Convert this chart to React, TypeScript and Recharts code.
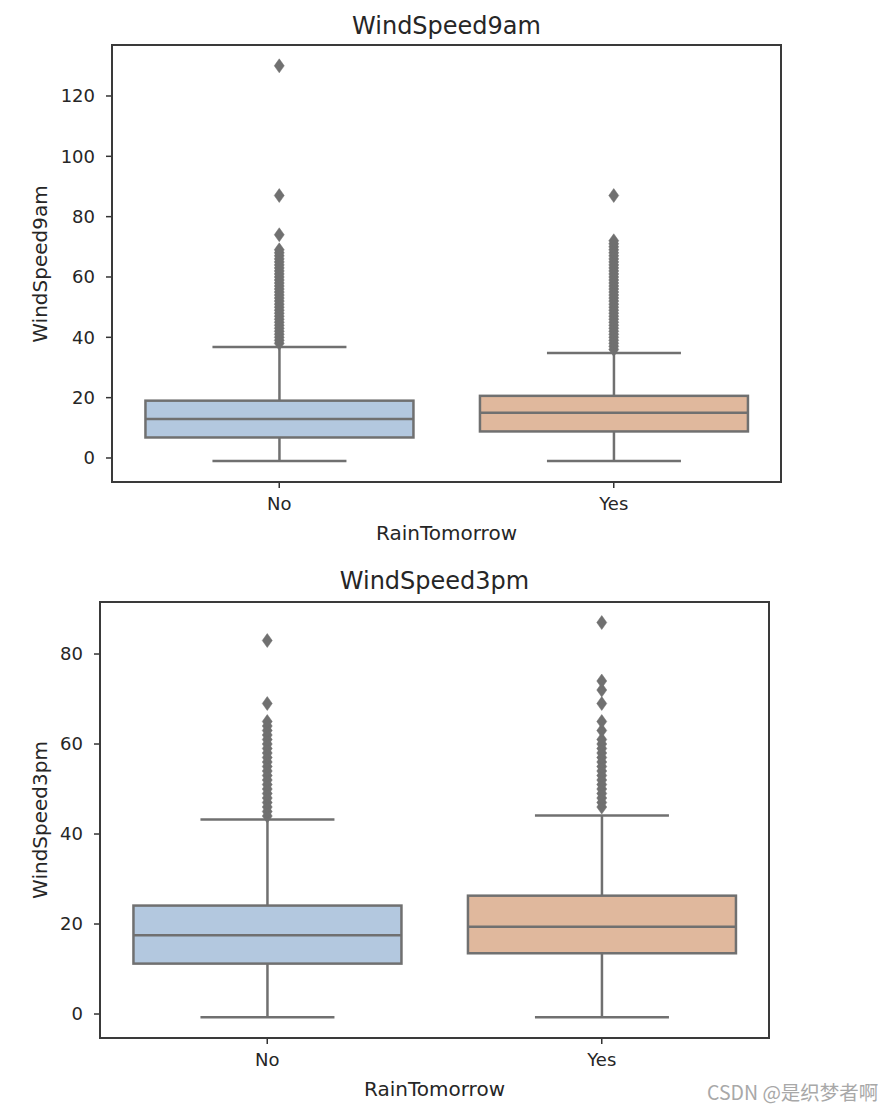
import React from "react";
import { Bar, ComposedChart, Scatter, XAxis, YAxis } from "recharts";

const rainTomorrow = ["No", "Yes"];

// WindSpeed9am box stats per category
const am9Low = [-1, -1];
const am9Q1 = [6.8, 8.8];
const am9Median = [12.9, 15];
const am9Q3 = [19, 20.6];
const am9High = [36.8, 34.8];
const am9OutliersNo = [
  38, 39, 40, 41, 42, 43, 44, 45, 46, 47, 48, 49, 50, 51, 52, 53, 54, 55, 56, 57, 58, 59, 60, 61, 62, 63,
  64, 65, 66, 67, 68, 69, 74, 87, 130,
];
const am9OutliersYes = [
  36, 37, 38, 39, 40, 41, 42, 43, 44, 45, 46, 47, 48, 49, 50, 51, 52, 53, 54, 55, 56, 57, 58, 59, 60, 61,
  62, 63, 64, 65, 66, 67, 68, 69, 70, 71, 72, 87,
];
const am9Ticks = [0, 20, 40, 60, 80, 100, 120];

// WindSpeed3pm box stats per category
const pm3Low = [-0.7, -0.7];
const pm3Q1 = [11.2, 13.5];
const pm3Median = [17.5, 19.4];
const pm3Q3 = [24.1, 26.3];
const pm3High = [43.2, 44.1];
const pm3OutliersNo = [
  44, 45, 46, 47, 48, 49, 50, 51, 52, 53, 54, 55, 56, 57, 58, 59, 60, 61, 62, 63, 64, 65, 69, 83,
];
const pm3OutliersYes = [
  46, 47, 48, 49, 50, 51, 52, 53, 54, 55, 56, 57, 58, 59, 60, 61, 63, 65, 69, 72, 74, 87,
];
const pm3Ticks = [0, 20, 40, 60, 80];

const FILLS = ["#b3c8df", "#e0b89d"];
const LINE = "#707070";
const TEXT = "#262626";
const FONT = "'DejaVu Sans', sans-serif";

function buildRows(low: number[], q1: number[], med: number[], q3: number[], high: number[]) {
  return rainTomorrow.map((cat, i) => ({
    cat,
    range: [low[i], high[i]],
    low: low[i],
    q1: q1[i],
    med: med[i],
    q3: q3[i],
    high: high[i],
    idx: i,
  }));
}

function buildOutliers(no: number[], yes: number[]) {
  return [...no.map((value) => ({ cat: "No", value })), ...yes.map((value) => ({ cat: "Yes", value }))];
}

// draws whiskers, box and median inside the pixel span the range bar gives
const BoxShape = (props: any) => {
  const { x, y, width, height, payload } = props;
  const top = Math.min(y, y + height);
  const bot = Math.max(y, y + height);
  const { low, high, q1, q3, med, idx } = payload;
  const py = (v: number) => top + ((high - v) / (high - low)) * (bot - top);
  const cx = x + width / 2;
  const capHalf = width / 4;
  return (
    <g>
      <line x1={cx} x2={cx} y1={py(high)} y2={py(q3)} stroke={LINE} strokeWidth={2.5} />
      <line x1={cx} x2={cx} y1={py(q1)} y2={py(low)} stroke={LINE} strokeWidth={2.5} />
      <line x1={cx - capHalf} x2={cx + capHalf} y1={py(high)} y2={py(high)} stroke={LINE} strokeWidth={2.5} />
      <line x1={cx - capHalf} x2={cx + capHalf} y1={py(low)} y2={py(low)} stroke={LINE} strokeWidth={2.5} />
      <rect
        x={x}
        y={py(q3)}
        width={width}
        height={py(q1) - py(q3)}
        fill={FILLS[idx]}
        stroke={LINE}
        strokeWidth={2.5}
      />
      <line x1={x} x2={x + width} y1={py(med)} y2={py(med)} stroke={LINE} strokeWidth={2.5} />
    </g>
  );
};

const Diamond = (props: any) => {
  const { cx, cy } = props;
  if (cx == null || cy == null) return null;
  const w = 5;
  const h = 7;
  return (
    <polygon
      points={`${cx},${cy - h} ${cx + w},${cy} ${cx},${cy + h} ${cx - w},${cy}`}
      fill={LINE}
      stroke={LINE}
      strokeWidth={0.5}
    />
  );
};

type PanelProps = {
  top: number;
  height: number;
  plotLeft: number;
  plotRight: number;
  plotTop: number;
  plotBottom: number;
  domain: [number, number];
  ticks: number[];
  rows: any[];
  outliers: any[];
  title: string;
  titleY: number;
  xLabelY: number;
};

function BoxPanel(p: PanelProps) {
  const yAxisW = 60;
  const xAxisH = 60;
  const localPlotTop = p.plotTop - p.top;
  const localPlotBottom = p.plotBottom - p.top;
  const centerX = (p.plotLeft + p.plotRight) / 2;
  const centerY = (p.plotTop + p.plotBottom) / 2;
  const tickStyle = { fill: TEXT, fontSize: 18, fontFamily: FONT };
  return (
    <>
      <div
        style={{
          position: "absolute",
          left: centerX - 200,
          width: 400,
          top: p.titleY - 15,
          height: 30,
          lineHeight: "30px",
          textAlign: "center",
          fontSize: 24,
          color: TEXT,
          fontFamily: FONT,
        }}
      >
        {p.title}
      </div>
      <div style={{ position: "absolute", left: 0, top: p.top }}>
        <ComposedChart
          width={893}
          height={p.height}
          data={p.rows}
          barCategoryGap="10%"
          margin={{
            top: localPlotTop,
            right: 893 - p.plotRight,
            left: p.plotLeft - yAxisW,
            bottom: p.height - localPlotBottom - xAxisH,
          }}
        >
          <XAxis
            dataKey="cat"
            type="category"
            allowDuplicatedCategory={false}
            height={xAxisH}
            axisLine={false}
            tickLine={{ stroke: "#333", strokeWidth: 1.5 }}
            tickSize={6}
            tickMargin={9}
            tick={tickStyle}
          />
          <YAxis
            type="number"
            domain={p.domain}
            ticks={p.ticks}
            width={yAxisW}
            axisLine={false}
            tickLine={{ stroke: "#333", strokeWidth: 1.5 }}
            tickSize={6}
            tickMargin={11}
            tick={tickStyle}
            allowDataOverflow
          />
          <Bar dataKey="range" shape={BoxShape} isAnimationActive={false} />
          <Scatter data={p.outliers} dataKey="value" shape={Diamond} isAnimationActive={false} />
        </ComposedChart>
      </div>
      <div
        style={{
          position: "absolute",
          left: p.plotLeft - 1,
          top: p.plotTop - 1,
          width: p.plotRight - p.plotLeft + 2,
          height: p.plotBottom - p.plotTop + 2,
          border: "2px solid #3a3a3a",
          boxSizing: "border-box",
          pointerEvents: "none",
        }}
      />
      <div
        style={{
          position: "absolute",
          left: 40 - 150,
          top: centerY - 12,
          width: 300,
          height: 24,
          lineHeight: "24px",
          textAlign: "center",
          transform: "rotate(-90deg)",
          fontSize: 20,
          color: TEXT,
          fontFamily: FONT,
        }}
      >
        {p.title}
      </div>
      <div
        style={{
          position: "absolute",
          left: centerX - 150,
          width: 300,
          top: p.xLabelY - 12,
          height: 24,
          lineHeight: "24px",
          textAlign: "center",
          fontSize: 20,
          color: TEXT,
          fontFamily: FONT,
        }}
      >
        RainTomorrow
      </div>
    </>
  );
}

export default function App() {
  return (
    <div
      style={{
        position: "absolute",
        left: 0,
        top: 0,
        width: 893,
        height: 1109,
        background: "#fff",
        overflow: "hidden",
      }}
    >
      <BoxPanel
        top={0}
        height={560}
        plotLeft={112}
        plotRight={781}
        plotTop={45}
        plotBottom={482}
        domain={[-7.96, 136.9]}
        ticks={am9Ticks}
        rows={buildRows(am9Low, am9Q1, am9Median, am9Q3, am9High)}
        outliers={buildOutliers(am9OutliersNo, am9OutliersYes)}
        title="WindSpeed9am"
        titleY={26}
        xLabelY={533}
      />
      <BoxPanel
        top={557}
        height={552}
        plotLeft={100}
        plotRight={769}
        plotTop={602}
        plotBottom={1038}
        domain={[-5.33, 91.56]}
        ticks={pm3Ticks}
        rows={buildRows(pm3Low, pm3Q1, pm3Median, pm3Q3, pm3High)}
        outliers={buildOutliers(pm3OutliersNo, pm3OutliersYes)}
        title="WindSpeed3pm"
        titleY={581}
        xLabelY={1089}
      />
      <div
        style={{
          position: "absolute",
          left: 707,
          top: 1077,
          fontSize: 19.5,
          color: "#a8a8a8",
          fontFamily: "'Noto Sans CJK SC', 'Noto Sans', sans-serif",
          whiteSpace: "nowrap",
        }}
      >
        CSDN @是织梦者啊
      </div>
    </div>
  );
}
